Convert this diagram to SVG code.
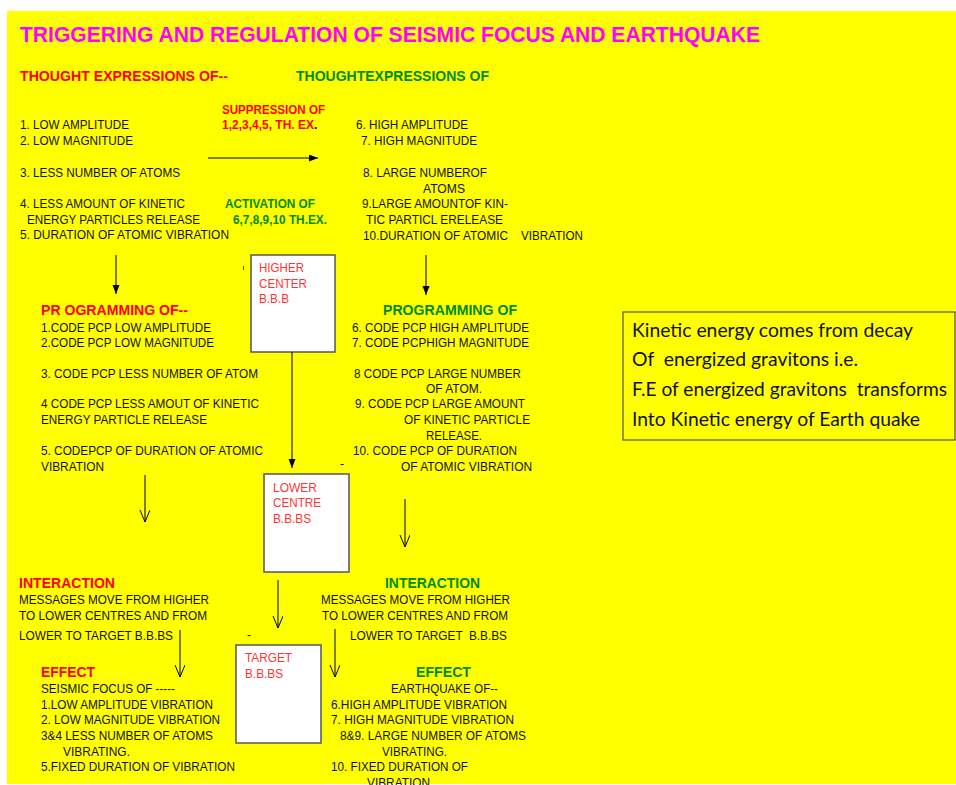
<svg xmlns="http://www.w3.org/2000/svg" width="956" height="785" viewBox="0 0 956 785">
<defs>
<style>
.t{font-family:"Liberation Sans",Arial,sans-serif;font-size:12.4px;fill:#111}
.h{font-family:"Liberation Sans",Arial,sans-serif;font-size:14.6px;font-weight:bold}
.s{font-family:"Liberation Sans",Arial,sans-serif;font-size:12.2px;font-weight:bold}
.r{fill:#ff0000}
.g{fill:#008c00}
.lbl{font-family:"Liberation Sans",Arial,sans-serif;font-size:13px;fill:#ff3333}
.k{font-family:Lato,"Open Sans","Noto Sans",sans-serif;font-size:20px;fill:#111}
.box{fill:#fff;stroke:#555;stroke-width:1.5}
.ln{stroke:#000;stroke-width:1;fill:none}
</style>
<marker id="fa" markerUnits="userSpaceOnUse" markerWidth="10" markerHeight="8" refX="9" refY="3.5" orient="auto">
<path d="M0,0 L9,3.5 L0,7 z" fill="#000"/>
</marker>
<marker id="oa" markerUnits="userSpaceOnUse" markerWidth="14" markerHeight="12" refX="12" refY="5" orient="auto">
<path d="M0,0 L12,5 L0,10" fill="none" stroke="#000" stroke-width="1"/>
</marker>
</defs>
<rect x="0" y="0" width="956" height="785" fill="#fff"/>
<rect x="7" y="11" width="949" height="773" fill="#ffff00"/>

<g id="title">
<text x="20" y="42" font-family="'Liberation Sans',Arial,sans-serif" font-size="22" font-weight="bold" fill="#ff00ff" textLength="740" lengthAdjust="spacingAndGlyphs">TRIGGERING AND REGULATION OF SEISMIC FOCUS AND EARTHQUAKE</text>
</g>

<g id="left-thought">
<text class="h r" x="20" y="81" textLength="208" lengthAdjust="spacingAndGlyphs">THOUGHT EXPRESSIONS OF--</text>
<text class="t" x="20" y="129" textLength="109" lengthAdjust="spacingAndGlyphs">1. LOW AMPLITUDE</text>
<text class="t" x="20" y="145" textLength="113" lengthAdjust="spacingAndGlyphs">2. LOW MAGNITUDE</text>
<text class="t" x="20" y="177" textLength="160" lengthAdjust="spacingAndGlyphs">3. LESS NUMBER OF ATOMS</text>
<text class="t" x="20" y="208" textLength="165" lengthAdjust="spacingAndGlyphs">4. LESS AMOUNT OF KINETIC</text>
<text class="t" x="27" y="224" textLength="173" lengthAdjust="spacingAndGlyphs">ENERGY PARTICLES RELEASE</text>
<text class="t" x="20" y="239" textLength="209" lengthAdjust="spacingAndGlyphs">5. DURATION OF ATOMIC VIBRATION</text>
</g>

<g id="suppression">
<text class="s r" x="222" y="114" textLength="103" lengthAdjust="spacingAndGlyphs">SUPPRESSION OF</text>
<text class="s r" x="222" y="129" textLength="92" lengthAdjust="spacingAndGlyphs">1,2,3,4,5, TH. EX</text>
<text class="s" x="314" y="129">.</text>
</g>

<g id="activation">
<text class="s g" x="225" y="208" textLength="90" lengthAdjust="spacingAndGlyphs">ACTIVATION OF</text>
<text class="s g" x="233" y="224" textLength="94" lengthAdjust="spacingAndGlyphs">6,7,8,9,10 TH.EX.</text>
</g>

<g id="right-thought">
<text class="h g" x="296" y="81" textLength="193" lengthAdjust="spacingAndGlyphs">THOUGHTEXPRESSIONS OF</text>
<text class="t" x="356" y="129" textLength="112" lengthAdjust="spacingAndGlyphs">6. HIGH AMPLITUDE</text>
<text class="t" x="361" y="145" textLength="116" lengthAdjust="spacingAndGlyphs">7. HIGH MAGNITUDE</text>
<text class="t" x="363" y="177" textLength="124" lengthAdjust="spacingAndGlyphs">8. LARGE NUMBEROF</text>
<text class="t" x="423" y="193" textLength="42" lengthAdjust="spacingAndGlyphs">ATOMS</text>
<text class="t" x="362" y="208" textLength="146" lengthAdjust="spacingAndGlyphs">9.LARGE AMOUNTOF KIN-</text>
<text class="t" x="366" y="224" textLength="137" lengthAdjust="spacingAndGlyphs">TIC PARTICL ERELEASE</text>
<text class="t" x="363" y="240" textLength="145" lengthAdjust="spacingAndGlyphs">10.DURATION OF ATOMIC</text>
<text class="t" x="521" y="240" textLength="62" lengthAdjust="spacingAndGlyphs">VIBRATION</text>
</g>

<g id="higher-centre">
<rect class="box" x="251" y="255" width="84" height="97"/>
<text class="lbl" x="259" y="272" textLength="45" lengthAdjust="spacingAndGlyphs">HIGHER</text>
<text class="lbl" x="259" y="288" textLength="48" lengthAdjust="spacingAndGlyphs">CENTER</text>
<text class="lbl" x="259" y="303" textLength="30" lengthAdjust="spacingAndGlyphs">B.B.B</text>
</g>

<g id="left-programming">
<text class="h r" x="41" y="315" textLength="147" lengthAdjust="spacingAndGlyphs">PR OGRAMMING OF--</text>
<text class="t" x="41" y="332" textLength="170" lengthAdjust="spacingAndGlyphs">1.CODE PCP LOW AMPLITUDE</text>
<text class="t" x="41" y="347" textLength="173" lengthAdjust="spacingAndGlyphs">2.CODE PCP LOW MAGNITUDE</text>
<text class="t" x="41" y="378" textLength="217" lengthAdjust="spacingAndGlyphs">3. CODE PCP LESS NUMBER OF ATOM</text>
<text class="t" x="41" y="408" textLength="218" lengthAdjust="spacingAndGlyphs">4 CODE PCP LESS AMOUT OF KINETIC</text>
<text class="t" x="41" y="424" textLength="166" lengthAdjust="spacingAndGlyphs">ENERGY PARTICLE RELEASE</text>
<text class="t" x="41" y="455" textLength="222" lengthAdjust="spacingAndGlyphs">5. CODEPCP OF DURATION OF ATOMIC</text>
<text class="t" x="41" y="471" textLength="63" lengthAdjust="spacingAndGlyphs">VIBRATION</text>
</g>

<g id="right-programming">
<text class="h g" x="383" y="315" textLength="134" lengthAdjust="spacingAndGlyphs">PROGRAMMING OF</text>
<text class="t" x="352" y="332" textLength="177" lengthAdjust="spacingAndGlyphs">6. CODE PCP HIGH AMPLITUDE</text>
<text class="t" x="352" y="347" textLength="177" lengthAdjust="spacingAndGlyphs">7. CODE PCPHIGH MAGNITUDE</text>
<text class="t" x="354" y="378" textLength="167" lengthAdjust="spacingAndGlyphs">8 CODE PCP LARGE NUMBER</text>
<text class="t" x="426" y="393" textLength="56" lengthAdjust="spacingAndGlyphs">OF ATOM.</text>
<text class="t" x="355" y="408" textLength="170" lengthAdjust="spacingAndGlyphs">9. CODE PCP LARGE AMOUNT</text>
<text class="t" x="404" y="424" textLength="126" lengthAdjust="spacingAndGlyphs">OF KINETIC PARTICLE</text>
<text class="t" x="426" y="440" textLength="56" lengthAdjust="spacingAndGlyphs">RELEASE.</text>
<text class="t" x="353" y="455" textLength="164" lengthAdjust="spacingAndGlyphs">10. CODE PCP OF DURATION</text>
<text class="t" x="401" y="471" textLength="131" lengthAdjust="spacingAndGlyphs">OF ATOMIC VIBRATION</text>
</g>

<g id="kinetic-note">
<rect x="623" y="312" width="332" height="128" fill="#ffff00" stroke="#333" stroke-width="1"/>
<text class="k" x="632" y="337" textLength="281" lengthAdjust="spacingAndGlyphs">Kinetic energy comes from decay</text>
<text class="k" x="632" y="366" xml:space="preserve" textLength="226" lengthAdjust="spacingAndGlyphs">Of  energized gravitons i.e.</text>
<text class="k" x="632" y="396" xml:space="preserve" textLength="315" lengthAdjust="spacingAndGlyphs">F.E of energized gravitons  transforms</text>
<text class="k" x="632" y="426" textLength="288" lengthAdjust="spacingAndGlyphs">Into Kinetic energy of Earth quake</text>
</g>

<g id="lower-centre">
<rect class="box" x="264" y="474" width="85" height="98"/>
<text class="lbl" x="273" y="492" textLength="44" lengthAdjust="spacingAndGlyphs">LOWER</text>
<text class="lbl" x="273" y="507" textLength="48" lengthAdjust="spacingAndGlyphs">CENTRE</text>
<text class="lbl" x="273" y="523" textLength="38" lengthAdjust="spacingAndGlyphs">B.B.BS</text>
</g>

<g id="left-interaction">
<text class="h r" x="19" y="588" textLength="96" lengthAdjust="spacingAndGlyphs">INTERACTION</text>
<text class="t" x="19" y="604" textLength="190" lengthAdjust="spacingAndGlyphs">MESSAGES MOVE FROM HIGHER</text>
<text class="t" x="19" y="620" textLength="188" lengthAdjust="spacingAndGlyphs">TO LOWER CENTRES AND FROM</text>
<text class="t" x="19" y="640" textLength="154" lengthAdjust="spacingAndGlyphs">LOWER TO TARGET B.B.BS</text>
</g>

<g id="right-interaction">
<text class="h g" x="385" y="588" textLength="95" lengthAdjust="spacingAndGlyphs">INTERACTION</text>
<text class="t" x="321" y="604" textLength="189" lengthAdjust="spacingAndGlyphs">MESSAGES MOVE FROM HIGHER</text>
<text class="t" x="322" y="620" textLength="186" lengthAdjust="spacingAndGlyphs">TO LOWER CENTRES AND FROM</text>
<text class="t" x="350" y="640" xml:space="preserve" textLength="157" lengthAdjust="spacingAndGlyphs">LOWER TO TARGET  B.B.BS</text>
</g>

<g id="target">
<rect class="box" x="236" y="645" width="85" height="98"/>
<text class="lbl" x="245" y="662" textLength="47" lengthAdjust="spacingAndGlyphs">TARGET</text>
<text class="lbl" x="245" y="678" textLength="38" lengthAdjust="spacingAndGlyphs">B.B.BS</text>
</g>

<g id="left-effect">
<text class="h r" x="41" y="677" textLength="54" lengthAdjust="spacingAndGlyphs">EFFECT</text>
<text class="t" x="41" y="693" textLength="134" lengthAdjust="spacingAndGlyphs">SEISMIC FOCUS OF -----</text>
<text class="t" x="41" y="709" textLength="172" lengthAdjust="spacingAndGlyphs">1.LOW AMPLITUDE VIBRATION</text>
<text class="t" x="41" y="724" textLength="179" lengthAdjust="spacingAndGlyphs">2. LOW MAGNITUDE VIBRATION</text>
<text class="t" x="41" y="740" textLength="172" lengthAdjust="spacingAndGlyphs">3&amp;4 LESS NUMBER OF ATOMS</text>
<text class="t" x="63" y="756" textLength="67" lengthAdjust="spacingAndGlyphs">VIBRATING.</text>
<text class="t" x="41" y="771" textLength="194" lengthAdjust="spacingAndGlyphs">5.FIXED DURATION OF VIBRATION</text>
</g>

<g id="right-effect">
<text class="h g" x="416" y="677" textLength="55" lengthAdjust="spacingAndGlyphs">EFFECT</text>
<text class="t" x="391" y="693" textLength="107" lengthAdjust="spacingAndGlyphs">EARTHQUAKE OF--</text>
<text class="t" x="331" y="709" textLength="176" lengthAdjust="spacingAndGlyphs">6.HIGH AMPLITUDE VIBRATION</text>
<text class="t" x="331" y="724" textLength="183" lengthAdjust="spacingAndGlyphs">7. HIGH MAGNITUDE VIBRATION</text>
<text class="t" x="340" y="740" textLength="186" lengthAdjust="spacingAndGlyphs">8&amp;9. LARGE NUMBER OF ATOMS</text>
<text class="t" x="382" y="756" textLength="65" lengthAdjust="spacingAndGlyphs">VIBRATING.</text>
<text class="t" x="331" y="771" textLength="137" lengthAdjust="spacingAndGlyphs">10. FIXED DURATION OF</text>
<text class="t" x="367" y="787" textLength="63" lengthAdjust="spacingAndGlyphs">VIBRATION</text>
</g>

<g id="marks" fill="#555">
<rect x="243" y="266" width="1" height="4"/>
<text class="t" x="340" y="468" font-size="10">-</text>
<text class="t" x="247" y="639" font-size="10">-</text>
</g>

<g id="connectors">
<line class="ln" x1="208" y1="158" x2="318" y2="158" marker-end="url(#fa)"/>
<line class="ln" x1="116" y1="255" x2="116" y2="294" marker-end="url(#fa)"/>
<line class="ln" x1="426" y1="255" x2="426" y2="295" marker-end="url(#fa)"/>
<line class="ln" x1="292" y1="352" x2="292" y2="468" stroke="#333" marker-end="url(#fa)"/>
<line class="ln" x1="145" y1="475" x2="145" y2="522" marker-end="url(#oa)"/>
<line class="ln" x1="405" y1="499" x2="405" y2="547" marker-end="url(#oa)"/>
<line class="ln" x1="278" y1="580" x2="278" y2="628" marker-end="url(#oa)"/>
<line class="ln" x1="180" y1="630" x2="180" y2="677" marker-end="url(#oa)"/>
<line class="ln" x1="335" y1="629" x2="335" y2="677" marker-end="url(#oa)"/>
</g>
</svg>
